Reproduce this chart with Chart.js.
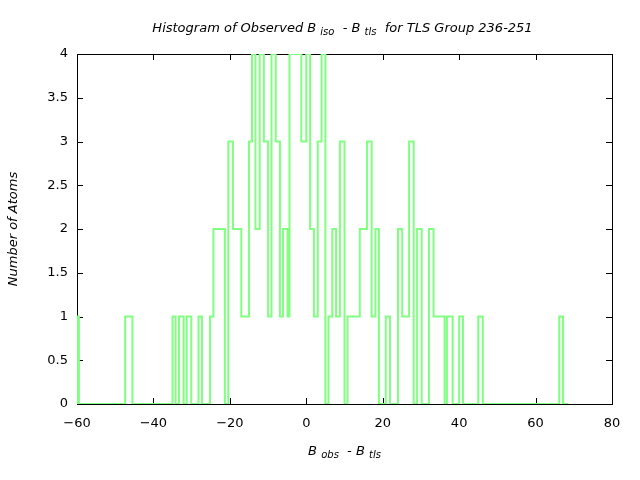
<!DOCTYPE html>
<html>
<head>
<meta charset="utf-8">
<script src="https://cdn.jsdelivr.net/npm/chart.js@4/dist/chart.umd.min.js"></script>
<style>
  html, body { margin: 0; padding: 0; background: #fff; }
  #wrap { width: 640px; height: 480px; }
</style>
</head>
<body>
<div id="wrap"><canvas id="hist"></canvas></div>
<script>
// step outline of the histogram: count starts at each edge and holds until the next one
const binEdges = [
  -60, -60, -59.5, -47.4, -45.5, -35.0, -34.2, -33.3, -32.1, -31.3, -30.1, -28.2, -27.3,
  -25.2, -24.3, -21.3, -20.4, -19.2, -17.0, -15.0, -14.2, -13.3, -12.2, -11.1, -10.0,
  -9.1, -8.0, -6.9, -6.1, -4.9, -4.4, -1.3, 0.0, 1.0, 2.0, 3.0, 4.0, 5.0, 5.8, 6.8,
  7.8, 8.8, 10.0, 10.8, 14.0, 15.9, 17.1, 18.1, 19.0, 20.8, 21.9, 24.0, 25.1, 26.9,
  28.1, 29.0, 30.2, 32.1, 33.3, 36.2, 36.8, 38.3, 40.0, 41.0, 45.0, 46.2, 66.2, 67.2, 68.5
];
const binCounts = [
  0, 1, 0, 1, 0, 1, 0, 1, 0, 1, 0, 1, 0,
  1, 2, 0, 3, 2, 1, 3, 4, 2, 4, 3, 1,
  4, 3, 1, 2, 1, 4, 3, 4, 2, 1, 3, 4, 0, 1, 2,
  1, 3, 0, 1, 2, 3, 1, 2, 0, 1, 0, 2, 1, 3,
  0, 2, 0, 2, 1, 0, 1, 0, 1, 0, 1, 0, 1, 0, 0
];
const xTicks = [-60, -40, -20, 0, 20, 40, 60, 80];
const yTicks = [0, 0.5, 1, 1.5, 2, 2.5, 3, 3.5, 4];

const TEXT_FONT = '"DejaVu Sans", sans-serif';
const LINE_GREEN = '#80ff80';

const points = binEdges.map((x, i) => ({ x: x, y: binCounts[i] }));

// draws a label made of normal and subscript pieces, centred on cx
function drawRich(ctx, parts, cx, baseY, size) {
  const subSize = Math.round(size * 0.8);
  let total = 0;
  parts.forEach((p) => {
    ctx.font = 'italic ' + (p.sub ? subSize : size) + 'px ' + TEXT_FONT;
    total += ctx.measureText(p.t).width;
  });
  let x = cx - total / 2;
  ctx.textAlign = 'left';
  ctx.textBaseline = 'alphabetic';
  parts.forEach((p) => {
    ctx.font = 'italic ' + (p.sub ? subSize : size) + 'px ' + TEXT_FONT;
    ctx.fillText(p.t, x, p.sub ? baseY + 3 : baseY);
    x += ctx.measureText(p.t).width;
  });
}

const framePlugin = {
  id: 'gnuFrame',
  beforeDatasetsDraw(chart) {
    const { ctx, chartArea: a, scales } = chart;
    ctx.save();
    ctx.strokeStyle = '#000';
    ctx.lineWidth = 1;
    ctx.strokeRect(a.left + 0.5, a.top + 0.5, a.right - a.left, a.bottom - a.top);
    const len = 6;
    ctx.beginPath();
    scales.x.ticks.forEach((t) => {
      const px = Math.round(scales.x.getPixelForValue(t.value)) + 0.5;
      ctx.moveTo(px, a.bottom); ctx.lineTo(px, a.bottom - len);
      ctx.moveTo(px, a.top); ctx.lineTo(px, a.top + len);
    });
    scales.y.ticks.forEach((t) => {
      const py = Math.round(scales.y.getPixelForValue(t.value)) + 0.5;
      ctx.moveTo(a.left, py); ctx.lineTo(a.left + len, py);
      ctx.moveTo(a.right, py); ctx.lineTo(a.right - len, py);
    });
    ctx.stroke();
    ctx.restore();
  },
  afterDraw(chart) {
    const { ctx, chartArea: a } = chart;
    const cx = (a.left + a.right) / 2;
    ctx.save();
    ctx.fillStyle = '#000';
    drawRich(ctx, [
      { t: 'Histogram of Observed B ' }, { t: 'iso', sub: true },
      { t: '  - B ' }, { t: 'tls', sub: true },
      { t: '  for TLS Group 236-251' }
    ], cx - 2, 32, 13);
    drawRich(ctx, [
      { t: 'B ' }, { t: 'obs', sub: true },
      { t: '  - B ' }, { t: 'tls', sub: true }
    ], cx, 455, 13);
    ctx.restore();
  }
};

const fmt = (v) => (v < 0 ? '\u2212' + Math.abs(v) : String(v));

new Chart(document.getElementById('hist'), {
  type: 'line',
  data: {
    datasets: [{
      data: points,
      stepped: 'before',
      borderColor: LINE_GREEN,
      borderWidth: 2,
      pointRadius: 0,
      fill: false,
      tension: 0,
    }],
  },
  options: {
    responsive: true,
    maintainAspectRatio: false,
    animation: false,
    layout: { padding: { top: 54, right: 28, bottom: 0, left: 0 } },
    plugins: {
      legend: { display: false },
      tooltip: { enabled: false },
    },
    scales: {
      x: {
        type: 'linear',
        min: -60,
        max: 80,
        afterBuildTicks: (s) => { s.ticks = xTicks.map((v) => ({ value: v })); },
        afterFit: (s) => { s.height = 76; },
        grid: { display: false, drawTicks: false },
        border: { display: false },
        ticks: { color: '#000', padding: 12, callback: fmt, font: { family: TEXT_FONT, size: 13 }, maxRotation: 0 },
      },
      y: {
        type: 'linear',
        min: 0,
        max: 4,
        afterBuildTicks: (s) => { s.ticks = yTicks.map((v) => ({ value: v })); },
        afterFit: (s) => { s.width = 77; },
        grid: { display: false, drawTicks: false },
        border: { display: false },
        ticks: { color: '#000', padding: 9, callback: fmt, font: { family: TEXT_FONT, size: 13 } },
        title: {
          display: true,
          text: 'Number of Atoms',
          color: '#000',
          padding: { top: 6, bottom: 0 },
          font: { family: TEXT_FONT, size: 13, style: 'italic' },
        },
      },
    },
  },
  plugins: [framePlugin],
});
</script>
</body>
</html>
